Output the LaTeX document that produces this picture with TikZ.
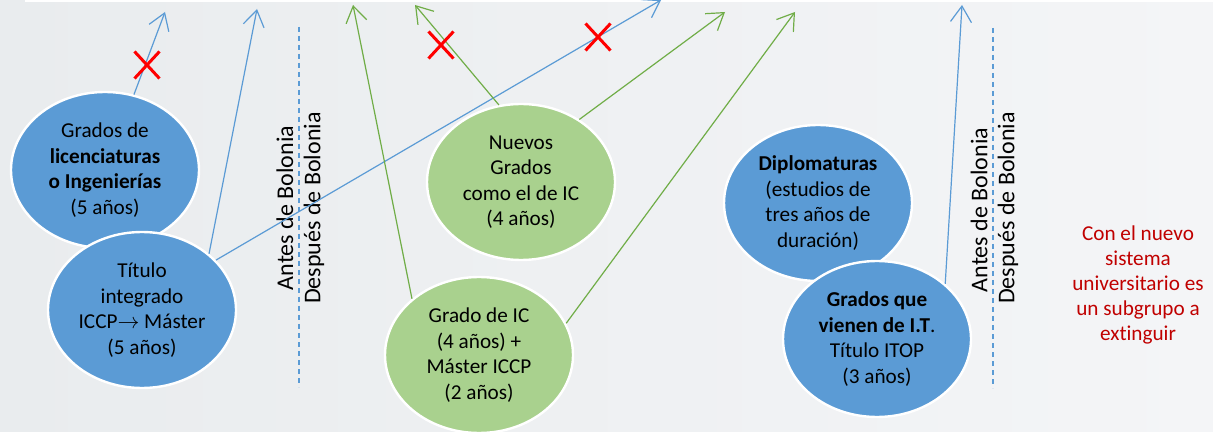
\documentclass[tikz,border=0pt]{standalone}
\usepackage{fontspec}
\setmainfont{Carlito}[Ligatures={NoCommon}]
\usetikzlibrary{arrows.meta,shapes.geometric,shapes.misc}
\definecolor{bluefill}{HTML}{5B9BD5}
\definecolor{greenfill}{HTML}{A9D18E}
\definecolor{greenline}{HTML}{70AD47}
\definecolor{redtext}{HTML}{C00000}
\definecolor{redx}{HTML}{FF0000}
\definecolor{bgl}{HTML}{E9ECEE}
\definecolor{bgr}{HTML}{F4F5F7}
\begin{document}
\begin{tikzpicture}[x=0.5pt,y=-0.5pt,
  bub/.style={ellipse, draw=white, line width=1.2pt, minimum width=94pt, minimum height=78pt,
    inner sep=0pt, align=center, font=\fontsize{10.6}{12.75}\selectfont, text=black},
  bluebub/.style={bub, fill=bluefill},
  greenbub/.style={bub, fill=greenfill},
  tipstyle/.style={-{Straight Barb[length=8pt,width=10.5pt]}},
  bluearrow/.style={draw=bluefill, line width=0.6pt, tipstyle},
  greenarrow/.style={draw=greenline, line width=0.6pt, tipstyle},
  dashline/.style={draw=bluefill, line width=0.6pt, dash pattern=on 2.5pt off 2pt},
  vlabel/.style={rotate=90, inner sep=0pt, font=\fontsize{12}{14}\selectfont, text=black},
  xmark/.style={cross out, draw=redx, line width=1.5pt, minimum width=11pt, minimum height=12pt, inner sep=0pt},
  note/.style={align=center, text=redtext, font=\fontsize{10.6}{12.5}\selectfont}
]
\useasboundingbox (0,0) rectangle (1213,432);
\fill[left color=bgl, right color=bgr] (0,0) rectangle (1213,432);
\fill[white] (25,0) rectangle (1213,2);

% dashed separators
\draw[dashline] (299,27) -- (299,387);
\draw[dashline] (993,28) -- (993,388);

% rotated labels
\node[vlabel] (antes1) at (285,208) {Antes de Bolonia};
\node[vlabel] (desp1) at (314,208) {Después de Bolonia};
\node[vlabel] (antes2) at (979,210) {Antes de Bolonia};
\node[vlabel] (desp2) at (1008,208) {Después de Bolonia};

% ellipses
\node[bluebub] (e1) at (105,170) {Grados de\\\textbf{licenciaturas}\\\textbf{o Ingenierías}\\(5 años)};
\node[bluebub] (e2) at (142,310) {Título\\integrado\\ICCP$\rightarrow$ Máster\\(5 años)};
\node[greenbub] (e3) at (521,182) {Nuevos\\Grados\\como el de IC\\(4 años)};
\node[greenbub] (e4) at (479,355) {Grado de IC\\(4 años) +\\Máster ICCP\\(2 años)};
\node[bluebub] (e5) at (818,203) {\textbf{Diplomaturas}\\(estudios de\\tres años de\\duración)};
\node[bluebub] (e6) at (877,339) {\textbf{Grados que}\\\textbf{vienen de I.T}.\\Título ITOP\\(3 años)};

% arrow tips
\coordinate (ta) at (165,12);
\coordinate (tb) at (257,9);
\coordinate (tc) at (661,0);
\coordinate (td) at (353,5);
\coordinate (te) at (415,5);
\coordinate (tf) at (725,12);
\coordinate (tg) at (795,12);
\coordinate (th) at (962,5);

% connectors
\draw[bluearrow] (e1.69.5) -- (ta);
\draw[bluearrow] (e2.40.8) -- (tb);
\draw[bluearrow] (e2.34.9) -- (tc);
\draw[greenarrow] (e4.140.1) -- (td);
\draw[greenarrow] (e3.106.6) -- (te);
\draw[greenarrow] (e3.47.9) -- (tf);
\draw[greenarrow] (e4.20.5) -- (tg);
\draw[bluearrow] (e6.39.5) -- (th);

% red crosses
\node[xmark] (x1) at (147,65) {};
\node[xmark] (x2) at (441,45) {};
\node[xmark] (x3) at (598,37) {};

% note
\node[note] (nota) at (1138,285) {Con el nuevo\\sistema\\universitario es\\un subgrupo a\\extinguir};
\end{tikzpicture}
\end{document}
